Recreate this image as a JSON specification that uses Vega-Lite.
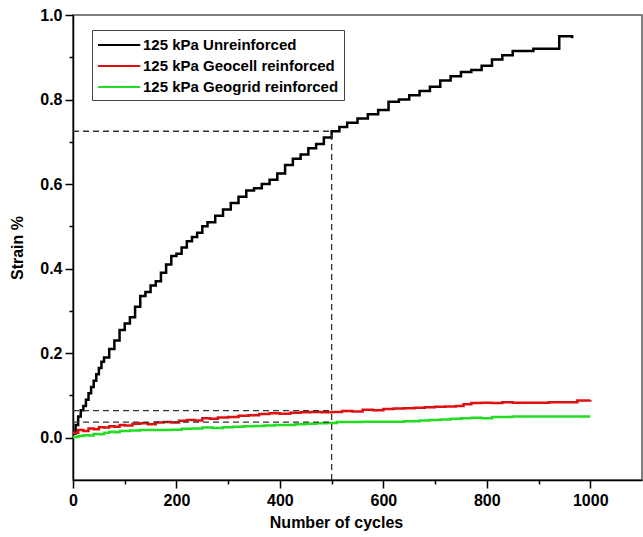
{
  "$schema": "https://vega.github.io/schema/vega-lite/v6.json",
  "width": 569,
  "height": 465,
  "autosize": {"type": "none"},
  "padding": {"left": 73, "top": 15, "right": 1, "bottom": 57},
  "background": "white",
  "config": {
    "font": "Liberation Sans",
    "view": {"stroke": "#555", "strokeWidth": 1.5},
    "axis": {"grid": false, "ticks": true}
  },
  "resolve": {"axis": {"x": "independent", "y": "independent"}},
  "datasets": {
    "curves": [
      {"s":"U","c":0,"v":0.01},{"s":"U","c":5,"v":0.03},{"s":"U","c":10,"v":0.05},{"s":"U","c":15,"v":0.065},{"s":"U","c":20,"v":0.075},{"s":"U","c":25,"v":0.09},{"s":"U","c":30,"v":0.105},{"s":"U","c":35,"v":0.12},{"s":"U","c":40,"v":0.135},{"s":"U","c":45,"v":0.15},{"s":"U","c":50,"v":0.165},{"s":"U","c":55,"v":0.18},{"s":"U","c":60,"v":0.19},{"s":"U","c":70,"v":0.21},{"s":"U","c":80,"v":0.23},{"s":"U","c":90,"v":0.255},{"s":"U","c":100,"v":0.27},{"s":"U","c":110,"v":0.285},{"s":"U","c":120,"v":0.31},{"s":"U","c":130,"v":0.335},{"s":"U","c":140,"v":0.345},{"s":"U","c":150,"v":0.36},{"s":"U","c":160,"v":0.37},{"s":"U","c":170,"v":0.39},{"s":"U","c":180,"v":0.41},{"s":"U","c":190,"v":0.43},{"s":"U","c":200,"v":0.435},{"s":"U","c":210,"v":0.45},{"s":"U","c":220,"v":0.465},{"s":"U","c":230,"v":0.475},{"s":"U","c":240,"v":0.485},{"s":"U","c":250,"v":0.5},{"s":"U","c":260,"v":0.51},{"s":"U","c":275,"v":0.525},{"s":"U","c":290,"v":0.54},{"s":"U","c":305,"v":0.555},{"s":"U","c":320,"v":0.57},{"s":"U","c":335,"v":0.585},{"s":"U","c":350,"v":0.59},{"s":"U","c":365,"v":0.6},{"s":"U","c":380,"v":0.61},{"s":"U","c":395,"v":0.625},{"s":"U","c":410,"v":0.645},{"s":"U","c":425,"v":0.66},{"s":"U","c":440,"v":0.67},{"s":"U","c":455,"v":0.685},{"s":"U","c":470,"v":0.695},{"s":"U","c":485,"v":0.71},{"s":"U","c":500,"v":0.725},{"s":"U","c":515,"v":0.735},{"s":"U","c":530,"v":0.745},{"s":"U","c":550,"v":0.755},{"s":"U","c":570,"v":0.765},{"s":"U","c":590,"v":0.775},{"s":"U","c":610,"v":0.795},{"s":"U","c":630,"v":0.8},{"s":"U","c":650,"v":0.81},{"s":"U","c":670,"v":0.82},{"s":"U","c":690,"v":0.83},{"s":"U","c":710,"v":0.845},{"s":"U","c":730,"v":0.855},{"s":"U","c":750,"v":0.865},{"s":"U","c":770,"v":0.87},{"s":"U","c":790,"v":0.88},{"s":"U","c":810,"v":0.895},{"s":"U","c":830,"v":0.905},{"s":"U","c":850,"v":0.915},{"s":"U","c":870,"v":0.915},{"s":"U","c":890,"v":0.92},{"s":"U","c":910,"v":0.92},{"s":"U","c":935,"v":0.92},{"s":"U","c":940,"v":0.95},{"s":"U","c":965,"v":0.945},
      {"s":"C","c":0,"v":0.012},{"s":"C","c":10,"v":0.018},{"s":"C","c":20,"v":0.016},{"s":"C","c":30,"v":0.022},{"s":"C","c":40,"v":0.02},{"s":"C","c":50,"v":0.025},{"s":"C","c":60,"v":0.024},{"s":"C","c":70,"v":0.027},{"s":"C","c":80,"v":0.026},{"s":"C","c":90,"v":0.03},{"s":"C","c":100,"v":0.029},{"s":"C","c":115,"v":0.033},{"s":"C","c":130,"v":0.034},{"s":"C","c":145,"v":0.032},{"s":"C","c":160,"v":0.036},{"s":"C","c":175,"v":0.037},{"s":"C","c":190,"v":0.036},{"s":"C","c":205,"v":0.04},{"s":"C","c":220,"v":0.042},{"s":"C","c":235,"v":0.041},{"s":"C","c":250,"v":0.046},{"s":"C","c":265,"v":0.045},{"s":"C","c":280,"v":0.048},{"s":"C","c":300,"v":0.049},{"s":"C","c":320,"v":0.052},{"s":"C","c":340,"v":0.053},{"s":"C","c":360,"v":0.056},{"s":"C","c":380,"v":0.058},{"s":"C","c":400,"v":0.057},{"s":"C","c":420,"v":0.059},{"s":"C","c":440,"v":0.06},{"s":"C","c":460,"v":0.061},{"s":"C","c":480,"v":0.06},{"s":"C","c":500,"v":0.061},{"s":"C","c":520,"v":0.063},{"s":"C","c":540,"v":0.062},{"s":"C","c":560,"v":0.066},{"s":"C","c":580,"v":0.065},{"s":"C","c":600,"v":0.068},{"s":"C","c":620,"v":0.069},{"s":"C","c":640,"v":0.07},{"s":"C","c":660,"v":0.071},{"s":"C","c":680,"v":0.072},{"s":"C","c":700,"v":0.073},{"s":"C","c":720,"v":0.074},{"s":"C","c":740,"v":0.075},{"s":"C","c":755,"v":0.079},{"s":"C","c":770,"v":0.082},{"s":"C","c":790,"v":0.083},{"s":"C","c":810,"v":0.082},{"s":"C","c":830,"v":0.084},{"s":"C","c":850,"v":0.083},{"s":"C","c":880,"v":0.083},{"s":"C","c":920,"v":0.084},{"s":"C","c":960,"v":0.084},{"s":"C","c":975,"v":0.088},{"s":"C","c":1000,"v":0.089},
      {"s":"G","c":0,"v":0.002},{"s":"G","c":10,"v":0.004},{"s":"G","c":20,"v":0.006},{"s":"G","c":30,"v":0.005},{"s":"G","c":40,"v":0.009},{"s":"G","c":50,"v":0.008},{"s":"G","c":60,"v":0.012},{"s":"G","c":70,"v":0.014},{"s":"G","c":80,"v":0.013},{"s":"G","c":90,"v":0.016},{"s":"G","c":110,"v":0.017},{"s":"G","c":130,"v":0.018},{"s":"G","c":150,"v":0.018},{"s":"G","c":170,"v":0.018},{"s":"G","c":190,"v":0.019},{"s":"G","c":210,"v":0.021},{"s":"G","c":230,"v":0.022},{"s":"G","c":250,"v":0.024},{"s":"G","c":270,"v":0.023},{"s":"G","c":290,"v":0.025},{"s":"G","c":310,"v":0.026},{"s":"G","c":330,"v":0.027},{"s":"G","c":350,"v":0.028},{"s":"G","c":370,"v":0.029},{"s":"G","c":390,"v":0.03},{"s":"G","c":410,"v":0.03},{"s":"G","c":430,"v":0.032},{"s":"G","c":450,"v":0.033},{"s":"G","c":470,"v":0.034},{"s":"G","c":490,"v":0.035},{"s":"G","c":510,"v":0.037},{"s":"G","c":530,"v":0.037},{"s":"G","c":560,"v":0.038},{"s":"G","c":600,"v":0.038},{"s":"G","c":640,"v":0.039},{"s":"G","c":670,"v":0.041},{"s":"G","c":690,"v":0.042},{"s":"G","c":710,"v":0.043},{"s":"G","c":730,"v":0.045},{"s":"G","c":750,"v":0.046},{"s":"G","c":770,"v":0.047},{"s":"G","c":790,"v":0.046},{"s":"G","c":810,"v":0.049},{"s":"G","c":850,"v":0.05},{"s":"G","c":900,"v":0.05},{"s":"G","c":950,"v":0.05},{"s":"G","c":1000,"v":0.05}
    ],
    "guides": [
      {"x":0,"x2":500,"y":0.725,"y2":0.725},
      {"x":500,"x2":500,"y":-0.1,"y2":0.725},
      {"x":0,"x2":500,"y":0.064,"y2":0.064},
      {"x":0,"x2":500,"y":0.037,"y2":0.037}
    ]
  },
  "layer": [
    {
      "data": {"name": "curves"},
      "mark": {"type": "line", "interpolate": "step-after", "strokeWidth": 2.5},
      "encoding": {
        "x": {
          "field": "c", "type": "quantitative",
          "scale": {"domain": [0, 1100], "nice": false},
          "axis": {
            "orient": "bottom",
            "title": "Number of cycles",
            "titleFont": "Liberation Sans", "titleFontSize": 16, "titleFontWeight": "bold", "titleColor": "black",
            "titleX": 263, "titleY": 42, "titleAlign": "center", "titleBaseline": "middle",
            "values": [0,200,400,600,800,1000],
            "format": "d",
            "labelFontSize": 16, "labelFontWeight": "bold", "labelColor": "black", "labelPadding": 4, "labelFlush": false,
            "domainColor": "black", "domainWidth": 1.5,
            "ticks": true, "tickColor": "black", "tickWidth": 1.5, "tickSize": 8
          }
        },
        "y": {
          "field": "v", "type": "quantitative",
          "scale": {"domain": [-0.1, 1.0], "nice": false, "zero": false},
          "axis": {
            "orient": "left",
            "title": "Strain %",
            "titleFont": "Liberation Sans", "titleFontSize": 16, "titleFontWeight": "bold", "titleColor": "black", "titlePadding": 14,
            "values": [0,0.2,0.4,0.6,0.8,1.0],
            "format": ".1f",
            "labelFontSize": 16, "labelFontWeight": "bold", "labelColor": "black", "labelPadding": 3, "labelFlush": false,
            "domainColor": "black", "domainWidth": 1.5,
            "ticks": true, "tickColor": "black", "tickWidth": 1.5, "tickSize": 8
          }
        },
        "color": {
          "field": "s", "type": "nominal",
          "scale": {"domain": ["U", "C", "G"], "range": ["#000000", "#e01010", "#22dd22"]},
          "legend": {
            "title": null,
            "orient": "none", "legendX": 19, "legendY": 15,
            "labelExpr": "datum.value === 'U' ? '125 kPa Unreinforced' : datum.value === 'C' ? '125 kPa Geocell reinforced' : '125 kPa Geogrid reinforced'",
            "symbolType": "M-1,0H3.7", "symbolSize": 324, "symbolStrokeWidth": 2, "symbolFillColor": "transparent",
            "labelFontSize": 15, "labelFontWeight": "bold", "labelColor": "black", "labelOffset": 26, "labelLimit": 400,
            "strokeColor": "#444", "fillColor": "white", "padding": 5, "rowPadding": 3
          }
        }
      }
    },
    {
      "data": {"name": "guides"},
      "mark": {"type": "rule", "strokeDash": [6, 4], "strokeWidth": 1.3, "color": "#333"},
      "encoding": {
        "x": {
          "field": "x", "type": "quantitative",
          "axis": {"orient": "bottom", "values": [100,300,500,700,900], "labels": false, "domain": false, "title": null, "ticks": true, "tickColor": "black", "tickWidth": 1.5, "tickSize": 4, "grid": false}
        },
        "x2": {"field": "x2"},
        "y": {
          "field": "y", "type": "quantitative",
          "axis": {"orient": "left", "values": [0.1,0.3,0.5,0.7,0.9], "labels": false, "domain": false, "title": null, "ticks": true, "tickColor": "black", "tickWidth": 1.5, "tickSize": 4, "grid": false}
        },
        "y2": {"field": "y2"}
      }
    }
  ]
}
